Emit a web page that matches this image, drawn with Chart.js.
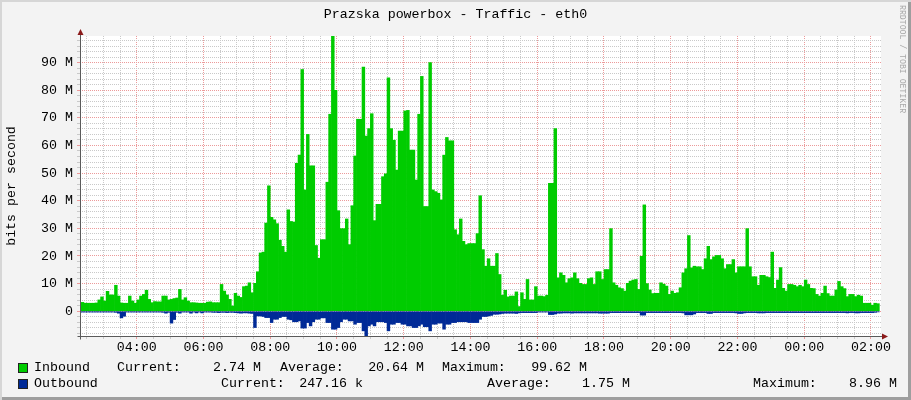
<!DOCTYPE html>
<html>
<head>
<meta charset="utf-8">
<script src="https://cdn.jsdelivr.net/npm/chart.js@4.4.1/dist/chart.umd.min.js"></script>
<style>
html,body{margin:0;padding:0;background:#f3f3f3;}
#wrap{position:relative;width:911px;height:400px;background:#f3f3f3;
  box-shadow:inset 2px 2px 0 #d6d6d6, inset -3px -3px 0 #9e9e9e;overflow:hidden;
  font-family:"Liberation Mono",monospace;font-size:13.3px;color:#000;}
#c{position:absolute;left:0;top:0;}
.t{position:absolute;white-space:pre;line-height:16px;}
.box{position:absolute;width:8px;height:8px;border:1px solid #222;}
#title{left:0;width:911px;top:7px;text-align:center;}
#wm{position:absolute;left:898px;top:5px;writing-mode:vertical-rl;font-size:8.2px;line-height:9px;color:#a8a8a8;white-space:pre;}
</style>
</head>
<body>
<div id="wrap">
  <canvas id="c" width="911" height="400"></canvas>
  <div class="t" id="title">Prazska powerbox - Traffic - eth0</div>
  <div id="wm">RRDTOOL / TOBI OETIKER</div>
</div>
<script>
// ---------------- data (Mbit/s, 5-minute averages starting 02:15) ----------------
const startMinute = 135;   // 02:15
const stepMinutes = 5;

const inbound = [
  3.0, 3.2, 2.9, 2.9, 2.9, 2.9, 3.0, 4.1, 5.2, 3.7,
  7.2, 5.9, 5.9, 9.4, 5.5, 3.0, 2.9, 2.9, 5.5, 3.7,
  2.9, 4.1, 5.5, 6.1, 7.6, 4.3, 3.1, 3.5, 3.4, 3.4,
  5.5, 5.5, 4.1, 4.3, 4.6, 4.8, 7.9, 4.1, 4.9, 3.7,
  3.1, 3.1, 3.0, 2.9, 2.9, 2.9, 3.3, 3.4,
  3.1, 3.1, 3.1, 9.7, 7.3, 5.9, 4.3, 1.9, 6.5, 5.5,
  5.0, 8.9, 9.1, 10.3, 6.7, 10.1, 14.3, 21.1, 21.4, 31.9,
  45.4, 34.0, 33.1, 31.7, 25.7, 23.5, 21.4, 36.7, 32.5, 32.3,
  53.5, 56.5, 87.5, 43.9, 64.0, 52.6, 52.6, 23.8, 19.2, 25.9,
  25.9, 46.7, 71.3, 99.62, 80.0, 36.4, 29.9, 29.9,
  33.4, 24.1, 38.2, 56.2, 69.5, 69.5, 88.4, 63.4, 66.1, 71.5,
  32.8, 38.7, 38.7, 48.7, 49.7, 84.5, 66.1, 61.9, 51.1, 65.2,
  65.2, 72.5, 72.7, 58.3, 58.3, 47.5, 71.3, 85.0, 37.9, 37.9,
  90.0, 43.9, 43.3, 42.7, 40.3, 56.5, 62.9, 61.7, 61.7, 29.5,
  27.7, 33.4, 25.3, 24.1, 24.5, 24.5, 24.5,
  28.1, 41.8, 22.3, 16.3, 19.0, 16.3, 16.3, 20.9, 13.3, 5.8,
  7.6, 5.2, 5.5, 5.5, 7.0, 1.7, 6.7, 4.3, 11.5, 4.1,
  4.1, 8.9, 5.5, 5.5, 5.3, 5.8, 46.3, 46.3, 66.1, 12.1,
  13.9, 13.0, 10.3, 11.8, 12.1, 13.9, 11.8, 10.1, 9.7, 9.7,
  11.8, 12.1, 9.7, 14.3, 14.3, 11.5, 15.1, 15.1,
  29.9, 10.3, 9.4, 8.5, 8.2, 7.3, 10.1, 10.9, 11.3, 11.5,
  7.9, 19.9, 38.5, 10.0, 7.7, 6.4, 6.5, 6.5, 10.3, 9.8,
  9.1, 6.1, 7.3, 6.5, 6.7, 8.5, 13.9, 15.4, 27.4, 15.7,
  16.3, 16.1, 16.1, 15.1, 19.0, 23.5, 18.7, 19.7, 20.2, 20.2,
  19.0, 15.4, 16.9, 16.9, 18.7, 13.9, 16.1,
  16.1, 16.1, 29.9, 16.1, 12.5, 12.5, 9.4, 13.0, 13.0, 12.5,
  12.2, 21.4, 8.3, 11.3, 15.8, 8.3, 7.3, 9.7, 9.7, 9.4,
  8.9, 9.4, 8.9, 11.3, 9.7, 8.3, 8.2, 6.1, 5.5, 6.5,
  9.1, 6.4, 5.5, 5.5, 7.7, 10.8, 8.9, 8.2, 5.3, 6.1,
  6.1, 5.3, 5.8, 5.5, 2.9, 2.9, 2.9, 2.2, 2.9, 2.74
];

const outbound = [
  0.3, 0.3, 0.3, 0.3, 0.3, 0.3, 0.3, 0.3, 0.3, 0.3,
  0.3, 0.3, 0.3, 0.4, 0.7, 2.4, 1.8, 0.3, 0.3, 0.3,
  0.3, 0.3, 0.3, 0.3, 0.3, 0.3, 0.3, 0.3, 0.3, 0.3,
  0.4, 0.7, 0.4, 4.3, 3.0, 0.4, 0.7, 0.3, 0.3, 0.3,
  0.7, 0.3, 0.6, 0.3, 0.6, 0.3, 0.3, 0.3,
  0.4, 0.4, 0.5, 0.4, 0.4, 0.5, 0.4, 0.4, 0.5, 0.6,
  0.7, 0.6, 0.6, 0.7, 0.8, 5.9, 1.7, 1.7, 1.9, 2.3,
  2.3, 4.1, 2.9, 2.9, 2.3, 1.9, 1.9, 2.9, 3.1, 3.8,
  3.8, 3.5, 6.1, 6.1, 4.1, 5.3, 3.8, 2.9, 2.9, 2.4,
  2.4, 4.1, 4.1, 6.5, 6.5, 5.9, 3.8, 2.9,
  2.9, 3.5, 3.5, 4.7, 4.1, 4.1, 7.1, 8.96, 5.3, 4.7,
  5.3, 3.8, 3.8, 3.8, 4.1, 7.1, 4.7, 4.7, 4.1, 4.1,
  4.7, 4.7, 5.3, 5.3, 5.9, 5.9, 5.3, 4.7, 5.6, 5.6,
  7.1, 4.7, 4.7, 4.3, 4.3, 6.5, 4.7, 4.7, 4.1, 4.1,
  3.8, 3.8, 3.8, 3.8, 4.1, 4.1, 4.1,
  4.1, 2.9, 1.9, 1.9, 1.7, 1.5, 1.1, 1.1, 1.0, 0.8,
  0.7, 0.7, 0.7, 0.7, 0.8, 0.6, 0.5, 0.5, 0.5, 0.5,
  0.5, 0.5, 0.3, 0.3, 0.3, 0.3, 1.2, 1.2, 1.0, 0.7,
  0.7, 0.6, 0.6, 0.6, 0.7, 0.6, 0.6, 0.6, 0.6, 0.6,
  0.6, 0.6, 0.6, 0.6, 0.7, 0.7, 0.7, 0.7,
  0.5, 0.5, 0.5, 0.5, 0.5, 0.5, 0.5, 0.5, 0.5, 0.5,
  0.5, 1.4, 1.4, 0.5, 0.5, 0.5, 0.5, 0.5, 0.5, 0.5,
  0.5, 0.5, 0.5, 0.5, 0.5, 0.5, 0.6, 1.3, 1.3, 1.3,
  1.0, 0.5, 0.5, 0.5, 0.5, 0.8, 0.8, 0.5, 0.5, 0.5,
  0.5, 0.5, 0.5, 0.5, 0.5, 0.6, 0.8,
  0.8, 0.6, 0.5, 0.5, 0.5, 0.5, 0.6, 0.6, 0.6, 0.5,
  0.5, 0.5, 0.5, 0.5, 0.5, 0.5, 0.5, 0.5, 0.5, 0.5,
  0.5, 0.5, 0.5, 0.5, 0.5, 0.5, 0.5, 0.5, 0.5, 0.5,
  0.5, 0.5, 0.5, 0.5, 0.5, 0.5, 0.5, 0.5, 0.6, 0.5,
  0.5, 0.6, 0.6, 0.5, 0.5, 0.5, 0.5, 0.5, 0.4, 0.247
];

// x axis: minutes since midnight of first day
const xTickValues = [240, 360, 480, 600, 720, 840, 960, 1080, 1200, 1320, 1440, 1560];
const xTickLabels = ['04:00','06:00','08:00','10:00','12:00','14:00','16:00','18:00','20:00','22:00','00:00','02:00'];
const xMin = 138, xMax = 1578;

// y axis (Mbit/s)
const yTickValues = [0, 10, 20, 30, 40, 50, 60, 70, 80, 90];
const yTickLabels = ['0','10 M','20 M','30 M','40 M','50 M','60 M','70 M','80 M','90 M'];
const yMin = -8.96, yMax = 99.62;

// legend
const seriesNames = ['Inbound', 'Outbound'];
const seriesColors = ['#00CC00', '#002A97'];
const statCurrent = ['2.74 M', '247.16 k'];
const statAverage = ['20.64 M', '1.75 M'];
const statMaximum = ['99.62 M', '8.96 M'];

// ---------------- build ----------------
// each 5-minute average fills its whole interval (bar centred in the interval)
function toIntervalPoints(arr, sign) {
  return arr.map((v, i) => ({x: startMinute + (i + 0.5) * stepMinutes, y: sign * v}));
}

const xGrid = [];
for (let m = 150; m <= xMax; m += 30) xGrid.push(m);
const yGrid = [];
for (let v = -8; v <= 98; v += 2) yGrid.push(v);

const RED = '#ec9a9a';
const GRAY = '#c9c9c9';
const FONT = {family: 'Liberation Mono', size: 13.3};

const bgPlugin = {
  id: 'bg',
  beforeDraw(chart) {
    const {ctx, chartArea: a} = chart;
    ctx.save();
    ctx.fillStyle = '#ffffff';
    ctx.fillRect(a.left, a.top, a.right - a.left, a.bottom - a.top);
    ctx.restore();
  }
};

const axesPlugin = {
  id: 'axes',
  afterDatasetsDraw(chart) {
    const {ctx, chartArea: a} = chart;
    ctx.save();
    ctx.strokeStyle = '#5a5a5a';
    ctx.lineWidth = 1;
    const x0 = Math.round(a.left) + 0.5;
    const yb = Math.round(a.bottom) + 0.5;
    ctx.beginPath();
    ctx.moveTo(x0, yb + 3);
    ctx.lineTo(x0, a.top - 4);
    ctx.moveTo(x0 - 3, yb);
    ctx.lineTo(a.right + 3, yb);
    ctx.stroke();
    ctx.fillStyle = '#8b1a1a';
    ctx.beginPath();
    ctx.moveTo(x0 - 3, a.top - 1);
    ctx.lineTo(x0 + 3, a.top - 1);
    ctx.lineTo(x0, a.top - 7);
    ctx.closePath();
    ctx.fill();
    ctx.beginPath();
    ctx.moveTo(a.right + 1, yb - 3);
    ctx.lineTo(a.right + 1, yb + 3);
    ctx.lineTo(a.right + 7, yb);
    ctx.closePath();
    ctx.fill();
    ctx.restore();
  }
};

new Chart(document.getElementById('c'), {
  type: 'bar',
  data: {
    datasets: [
      {label: seriesNames[0], data: toIntervalPoints(inbound, 1), backgroundColor: seriesColors[0],
       borderWidth: 0, barPercentage: 1, categoryPercentage: 1, grouped: false},
      {label: seriesNames[1], data: toIntervalPoints(outbound, -1), backgroundColor: seriesColors[1],
       borderWidth: 0, barPercentage: 1, categoryPercentage: 1, grouped: false}
    ]
  },
  options: {
    responsive: false,
    animation: false,
    devicePixelRatio: 1,
    layout: {padding: {left: 0, right: 30, top: 36, bottom: 0}},
    plugins: {legend: {display: false}, title: {display: false}, tooltip: {enabled: false}},
    scales: {
      x: {
        type: 'linear', min: xMin, max: xMax, offset: false,
        afterFit(s) { s.height = 64; },
        afterBuildTicks(s) { s.ticks = xGrid.map(v => ({value: v})); },
        grid: {
          offset: false,
          color: c => (c.tick && xTickValues.includes(c.tick.value)) ? RED : GRAY,
          tickColor: c => (c.tick && xTickValues.includes(c.tick.value)) ? RED : GRAY,
          lineWidth: 1, drawTicks: true, tickLength: 3
        },
        border: {display: false, dash: [1, 1]},
        ticks: {
          autoSkip: false, maxRotation: 0, minRotation: 0, padding: 0, color: '#000', font: FONT,
          callback: v => { const i = xTickValues.indexOf(v); return i >= 0 ? xTickLabels[i] : ''; }
        }
      },
      y: {
        min: yMin, max: yMax,
        afterFit(s) { s.width = 80; },
        afterBuildTicks(s) { s.ticks = yGrid.map(v => ({value: v})); },
        grid: {
          color: c => (c.tick && yTickValues.includes(c.tick.value)) ? RED : GRAY,
          tickColor: c => (c.tick && yTickValues.includes(c.tick.value)) ? RED : GRAY,
          lineWidth: 1, drawTicks: true, tickLength: 3
        },
        border: {display: false, dash: [1, 1]},
        ticks: {
          autoSkip: false, padding: 4, color: '#000', font: FONT,
          callback: v => { const i = yTickValues.indexOf(v); return i >= 0 ? yTickLabels[i] : ''; }
        },
        title: {display: true, text: 'bits per second', color: '#000', font: FONT, padding: {top: 3, bottom: 0}}
      }
    }
  },
  plugins: [bgPlugin, axesPlugin]
});

// legend (HTML text)
const wrap = document.getElementById('wrap');
function addText(txt, left, top, right) {
  const d = document.createElement('div');
  d.className = 't';
  d.textContent = txt;
  d.style.top = top + 'px';
  if (right !== undefined) { d.style.right = (911 - right) + 'px'; d.style.textAlign = 'right'; }
  else d.style.left = left + 'px';
  wrap.appendChild(d);
}
const rows = [
  {top: 360, box: 363, cur: 117, curR: 261, avg: 280, avgR: 424, max: 442, maxR: 587},
  {top: 376, box: 379, cur: 221, curR: 363, avg: 487, avgR: 630, max: 753, maxR: 897}
];
rows.forEach((r, i) => {
  const b = document.createElement('div');
  b.className = 'box';
  b.style.left = '18px';
  b.style.top = r.box + 'px';
  b.style.background = seriesColors[i];
  wrap.appendChild(b);
  addText(seriesNames[i], 34, r.top);
  addText('Current:', r.cur, r.top);
  addText(statCurrent[i], 0, r.top, r.curR);
  addText('Average:', r.avg, r.top);
  addText(statAverage[i], 0, r.top, r.avgR);
  addText('Maximum:', r.max, r.top);
  addText(statMaximum[i], 0, r.top, r.maxR);
});
</script>
</body>
</html>
